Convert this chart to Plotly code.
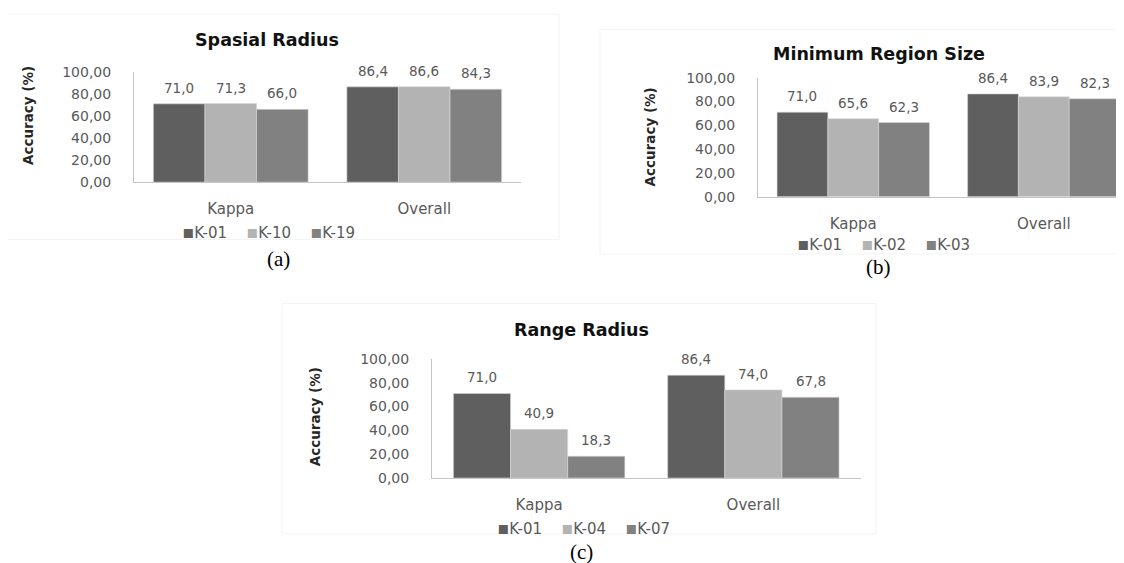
import plotly.graph_objects as go

# ---------------- data ----------------
categories = ["Kappa", "Overall"]
y_tick_values = [0, 20, 40, 60, 80, 100]
y_tick_labels = ["0,00", "20,00", "40,00", "60,00", "80,00", "100,00"]
y_title = "Accuracy (%)"

spasial_names = ["K-01", "K-10", "K-19"]
spasial_k01 = [71.0, 86.4]
spasial_k10 = [71.3, 86.6]
spasial_k19 = [66.0, 84.3]

region_names = ["K-01", "K-02", "K-03"]
region_k01 = [71.0, 86.4]
region_k02 = [65.6, 83.9]
region_k03 = [62.3, 82.3]

range_names = ["K-01", "K-04", "K-07"]
range_k01 = [71.0, 86.4]
range_k04 = [40.9, 74.0]
range_k07 = [18.3, 67.8]

panel_titles = ["Spasial Radius", "Minimum Region Size", "Range Radius"]
panel_captions = ["(a)", "(b)", "(c)"]
series_colors = ["#5f5f5f", "#b3b3b3", "#818181"]

# ---------------- layout helpers ----------------
W, H = 1124, 563
BARGAP = 0.2
SANS = "DejaVu Sans"
GRAY = "#595959"


def px(x):
    return x / W


def py(y):
    return 1 - y / H


panels = [
    dict(names=spasial_names, values=[spasial_k01, spasial_k10, spasial_k19],
         x0=126, x1=513, top=57.5, base=171, xr=[-0.5, 1.5],
         title_xy=(259, 25), ytitle_xy=(20, 103), legend_xy=(260, 222), cap_xy=(270, 250),
         box=(-2, -2, 551, 230)),
    dict(names=region_names, values=[region_k01, region_k02, region_k03],
         x0=750, x1=1124, top=63.5, base=186, xr=[-0.5, 1.463],
         title_xy=(871, 39), ytitle_xy=(642, 125), legend_xy=(875, 234), cap_xy=(870, 258),
         box=(592, 14, 1130, 245)),
    dict(names=range_names, values=[range_k01, range_k04, range_k07],
         x0=424, x1=852.5, top=353, base=475.5, xr=[-0.5, 1.5],
         title_xy=(573, 323), ytitle_xy=(307, 413), legend_xy=(575, 526), cap_xy=(573, 552),
         box=(274, 296, 868, 533)),
]

fig = go.Figure()
annotations = []
shapes = []
layout_axes = {}

for i, p in enumerate(panels):
    n = "" if i == 0 else str(i + 1)
    xa, ya = "x" + n, "y" + n
    cat_px = (p["x1"] - p["x0"]) / (p["xr"][1] - p["xr"][0])
    bar_px = cat_px * (1 - BARGAP) / len(p["names"])

    for j, (name, vals) in enumerate(zip(p["names"], p["values"])):
        fig.add_trace(go.Bar(
            x=categories, y=vals, name=name, xaxis=xa, yaxis=ya,
            marker=dict(color=series_colors[j], line=dict(width=0.6, color="#d6d6d6")),
            showlegend=False, hoverinfo="x+y+name",
        ))
        for c, v in zip(categories, vals):
            annotations.append(dict(
                xref=xa, yref=ya, x=c, y=v, text=f"{v:.1f}".replace(".", ","),
                showarrow=False, xshift=(j - (len(p["names"]) - 1) / 2) * bar_px,
                yshift=16, yanchor="middle", xanchor="center",
                font=dict(family=SANS, size=13.5, color=GRAY),
            ))

    layout_axes["xaxis" + n] = dict(
        domain=[px(p["x0"]), px(p["x1"])], range=p["xr"], anchor=ya,
        showline=True, linecolor="#c4c4c4", linewidth=1, showgrid=False, zeroline=False,
        ticks="", tickfont=dict(family=SANS, size=15, color=GRAY),
        ticklabelstandoff=13, fixedrange=True,
    )
    layout_axes["yaxis" + n] = dict(
        domain=[py(p["base"]), py(p["top"])], range=[0, 100], anchor=xa,
        tickvals=y_tick_values, ticktext=y_tick_labels,
        showline=True, linecolor="#c4c4c4", linewidth=1, showgrid=False, zeroline=False,
        ticks="", tickfont=dict(family=SANS, size=14, color=GRAY),
        ticklabelstandoff=19, fixedrange=True,
    )

    # title
    tx, ty = p["title_xy"]
    annotations.append(dict(
        xref="paper", yref="paper", x=px(tx), y=py(ty), text=f"<b>{panel_titles[i]}</b>",
        showarrow=False, xanchor="center", yanchor="middle",
        font=dict(family=SANS, size=17.5, color="#111111"),
    ))
    # y-axis title
    yx, yy = p["ytitle_xy"]
    annotations.append(dict(
        xref="paper", yref="paper", x=px(yx), y=py(yy), text=f"<b>{y_title}</b>",
        textangle=-90, showarrow=False, xanchor="center", yanchor="middle",
        font=dict(family=SANS, size=13.5, color="#262626"),
    ))
    # legend row
    parts = []
    for j, name in enumerate(p["names"]):
        parts.append(f"<span style='color:{series_colors[j]};font-size:18px'>\u25aa</span>{name}")
    lx, ly = p["legend_xy"]
    annotations.append(dict(
        xref="paper", yref="paper", x=px(lx), y=py(ly), text="\u00a0\u00a0\u00a0\u00a0".join(parts),
        showarrow=False, xanchor="center", yanchor="middle",
        font=dict(family=SANS, size=15, color=GRAY),
    ))
    # caption
    cx, cy = p["cap_xy"]
    annotations.append(dict(
        xref="paper", yref="paper", x=px(cx), y=py(cy), text=panel_captions[i],
        showarrow=False, xanchor="center", yanchor="middle",
        font=dict(family="Liberation Serif", size=21, color="#000000"),
    ))
    # faint chart frame
    bx0, by0, bx1, by1 = p["box"]
    shapes.append(dict(
        type="rect", xref="paper", yref="paper", x0=px(bx0), x1=px(bx1), y0=py(by1), y1=py(by0),
        line=dict(color="#f3f3f3", width=1), fillcolor="rgba(0,0,0,0)", layer="below",
    ))

fig.update_layout(
    width=W, height=H, margin=dict(l=0, r=0, t=0, b=0),
    paper_bgcolor="white", plot_bgcolor="white",
    barmode="group", bargap=BARGAP, bargroupgap=0,
    showlegend=False, annotations=annotations, shapes=shapes,
    **layout_axes,
)

fig.write_html("out.html", config={"displayModeBar": False})
